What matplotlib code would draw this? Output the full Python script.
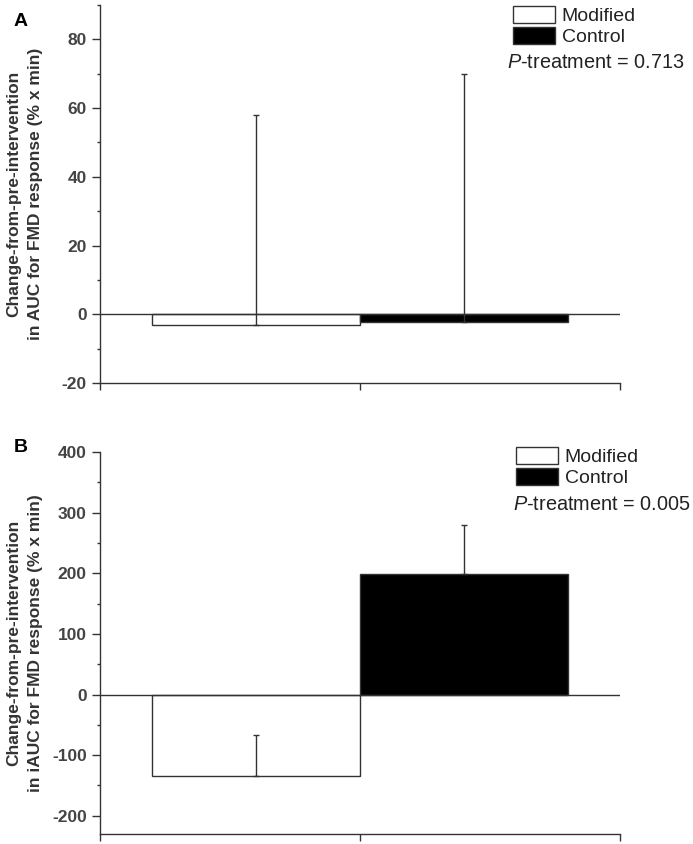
import matplotlib
matplotlib.use("Agg")
import matplotlib.pyplot as plt
from matplotlib.patches import Patch
from matplotlib.ticker import MultipleLocator

plt.rcParams['font.family'] = ['Liberation Sans', 'DejaVu Sans']
plt.rcParams['mathtext.fontset'] = 'custom'
plt.rcParams['mathtext.it'] = 'Liberation Sans:italic'
plt.rcParams['mathtext.rm'] = 'Liberation Sans'
plt.rcParams['axes.unicode_minus'] = False

# ================= DATA =================
groups = ["Modified", "Control"]
bar_colors = ["white", "black"]

# panel A: change in AUC
auc_means = [-3.0, -2.2]
auc_err = [61.0, 72.2]
p_auc = 0.713

# panel B: change in iAUC
iauc_means = [-135.0, 199.0]
iauc_err = [69.0, 81.0]
p_iauc = 0.005

x_pos = [0.6, 1.4]
dark = "#333333"

fig = plt.figure(figsize=(6.93, 8.44), dpi=100)
ax_a = fig.add_axes([100/693, 1 - 383/844, 520/693, 378/844])
ax_b = fig.add_axes([100/693, 1 - 834/844, 520/693, 382/844])


def draw_panel(ax, means, errs, ylim, major, minor, ylabel, letter, p_val, leg_xy, p_xy, letter_y):
    ax.bar(x_pos, means, width=0.8, color=bar_colors, edgecolor=dark, linewidth=1.0, zorder=2)
    # one sided error bars drawn upward from the bar end
    ax.errorbar(x_pos, means, yerr=[[0, 0], errs], fmt='none', ecolor=dark,
                elinewidth=1.0, capsize=2.5, capthick=1.0, zorder=3)
    ax.axhline(0, color=dark, lw=1.0, zorder=4)
    ax.set_xlim(0, 2)
    ax.set_ylim(*ylim)
    ax.yaxis.set_major_locator(MultipleLocator(major))
    ax.yaxis.set_minor_locator(MultipleLocator(minor))
    ax.set_xticks([0, 1, 2])
    ax.set_xticklabels([])
    for s in ["top", "right"]:
        ax.spines[s].set_visible(False)
    for s in ["left", "bottom"]:
        ax.spines[s].set_color(dark)
        ax.spines[s].set_linewidth(1.0)
    ax.tick_params(axis='y', which='major', length=5.5, width=1.0, color=dark, pad=4,
                   labelsize=12.5, labelcolor="#444444")
    ax.tick_params(axis='y', which='minor', length=2.5, width=1.0, color=dark)
    ax.tick_params(axis='x', which='major', length=5, width=1.0, color=dark)
    for lab in ax.get_yticklabels():
        lab.set_fontweight('bold')

    handles = [Patch(facecolor=c, edgecolor=dark, linewidth=1.0) for c in bar_colors]
    ax.legend(handles, groups, loc='upper left', bbox_to_anchor=leg_xy,
              bbox_transform=fig.transFigure, frameon=False, fontsize=14,
              handlelength=2.15, handleheight=0.95, handletextpad=0.35,
              labelspacing=0.12, borderpad=0, borderaxespad=0, labelcolor="#222222")
    fig.text(p_xy[0], p_xy[1], "$P$-treatment = %.3f" % p_val, fontsize=14.3,
             color="#222222", ha='left', va='center')

    pos = ax.get_position()
    fig.text(25/693, (pos.y0 + pos.y1) / 2, ylabel, rotation=90, ha='center', va='center',
             multialignment='center', fontsize=12.5, fontweight='bold', color=dark,
             linespacing=1.55)
    fig.text(21/693, letter_y, letter, fontsize=14, fontweight='bold', color='black',
             ha='center', va='center')


draw_panel(ax_a, auc_means, auc_err, (-20, 90), 20, 10,
           "Change-from-pre-intervention\nin AUC for FMD response (% x min)", "A", p_auc,
           (513/693, 1 - 6/844), (507/693, 1 - 63/844), 1 - 22/844)
draw_panel(ax_b, iauc_means, iauc_err, (-230, 400), 100, 50,
           "Change-from-pre-intervention\nin iAUC for FMD response (% x min)", "B", p_iauc,
           (516/693, 1 - 447/844), (513/693, 1 - 505/844), 1 - 447/844)

fig.savefig("out.png", dpi=100)
